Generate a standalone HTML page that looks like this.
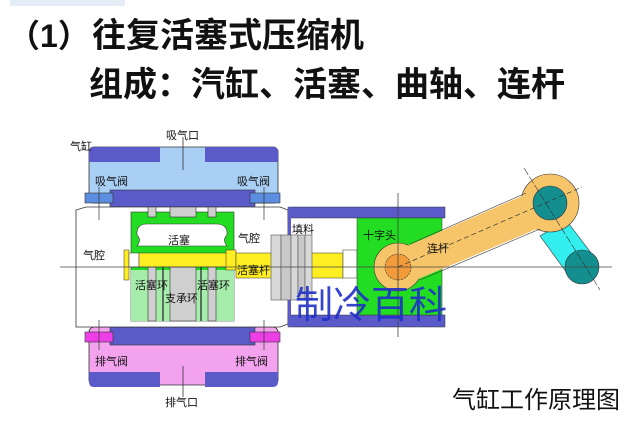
<!DOCTYPE html>
<html><head><meta charset="utf-8"><style>
body{margin:0;background:#fff;width:640px;height:429px;overflow:hidden}
svg{display:block}
text{font-family:"Liberation Sans","Noto Sans CJK SC",sans-serif}
</style></head><body>
<svg width="640" height="429" viewBox="0 0 640 429" xmlns="http://www.w3.org/2000/svg">
<rect x="10" y="0" width="115" height="6" fill="#e4ecf6"/>
<text x="8" y="47" font-size="32" fill="#111" font-weight="bold">（1）</text>
<text x="92" y="47" font-size="34" fill="#111" font-weight="bold">往复活塞式压缩机</text>
<text x="89" y="96" font-size="34" fill="#111" font-weight="bold">组成：汽缸、活塞、曲轴、连杆</text>

<!-- top head -->
<rect x="89" y="147" width="189" height="56" rx="5" fill="#a9cff5" stroke="#333" stroke-width="0.8"/>
<path d="M89 162 L89 152 Q89 147 94 147 L160 147 L160 162 Z" fill="#5a5ac8"/>
<path d="M205 147 L272 147 Q278 147 278 152 L278 162 L205 162 Z" fill="#5a5ac8"/>
<rect x="110" y="190" width="145" height="17" fill="#5a5ac8" stroke="#333" stroke-width="0.6"/>
<rect x="85" y="193" width="28" height="10" fill="#5b8ee0" stroke="#333" stroke-width="0.6"/>
<rect x="250" y="193" width="30" height="10" fill="#5b8ee0" stroke="#333" stroke-width="0.6"/>
<!-- bottom head -->
<rect x="89" y="327" width="189" height="58" rx="5" fill="#f3a3ee" stroke="#333" stroke-width="0.8"/>
<path d="M89 372 L160 372 L160 387 L94 387 Q89 387 89 382 Z" fill="#5a5ac8"/>
<path d="M205 372 L278 372 L278 382 Q278 387 272 387 L205 387 Z" fill="#5a5ac8"/>
<rect x="110" y="327" width="145" height="18" fill="#5a5ac8" stroke="#333" stroke-width="0.6"/>
<rect x="85" y="332" width="28" height="10" fill="#ee3ee8" stroke="#333" stroke-width="0.6"/>
<rect x="250" y="332" width="30" height="10" fill="#ee3ee8" stroke="#333" stroke-width="0.6"/>
<!-- body -->
<path d="M76 327 L76 210 L86 207 L110 207 L255 207 L280 207 L288 210 L288 324 L280 327 Z" fill="#fff" stroke="#333" stroke-width="0.8"/>
<!-- piston -->
<rect x="131" y="212" width="103" height="109" fill="#22dd22" stroke="#333" stroke-width="0.6"/>
<rect x="131" y="270" width="103" height="51" fill="#a6ecaa"/>
<path d="M147 224 L216 224 Q228 224 227 235 Q222 240 227 246 L137 246 Q142 240 137 235 Q136 224 147 224 Z" fill="#fff" stroke="#333" stroke-width="0.6"/>
<rect x="170" y="207" width="26" height="10" fill="#cfcfcf" stroke="#333" stroke-width="0.6"/>
<rect x="148" y="207" width="8" height="10" fill="#cfcfcf" stroke="#333" stroke-width="0.6"/>
<rect x="208" y="207" width="8" height="10" fill="#cfcfcf" stroke="#333" stroke-width="0.6"/>
<rect x="170" y="267" width="26" height="54" fill="#cfcfcf" stroke="#333" stroke-width="0.6"/>
<rect x="148" y="267" width="8" height="54" fill="#cfcfcf" stroke="#333" stroke-width="0.6"/>
<rect x="208" y="267" width="8" height="54" fill="#cfcfcf" stroke="#333" stroke-width="0.6"/>
<line x1="163" y1="267" x2="163" y2="321" stroke="#222" stroke-width="1.2"/>
<line x1="201" y1="267" x2="201" y2="321" stroke="#222" stroke-width="1.2"/>
<!-- rod -->
<rect x="124" y="250" width="5" height="30" fill="#ffee22" stroke="#333" stroke-width="0.5"/>
<rect x="129" y="253" width="10" height="14" fill="#fff" stroke="#333" stroke-width="0.5"/>
<rect x="139" y="253" width="96" height="14" fill="#ffee22" stroke="#333" stroke-width="0.5"/>
<rect x="226" y="250" width="10" height="20" fill="#ffee22" stroke="#333" stroke-width="0.5"/>
<rect x="236" y="253" width="107" height="25" fill="#ffee22" stroke="#333" stroke-width="0.5"/>
<rect x="343" y="250" width="14" height="28" fill="#fff" stroke="#333" stroke-width="0.5"/>
<!-- packing box -->
<rect x="288" y="207" width="157" height="11" fill="#5a5ac8" stroke="#333" stroke-width="0.5"/>
<rect x="288" y="315" width="157" height="12" fill="#5a5ac8" stroke="#333" stroke-width="0.5"/>
<rect x="288" y="207" width="3" height="120" fill="#5a5ac8"/>
<rect x="357" y="218" width="85" height="97" fill="#22dd22" stroke="#333" stroke-width="0.5"/>
<rect x="271" y="235" width="10" height="65" fill="#d8d8d8" stroke="#555" stroke-width="0.6"/>
<rect x="281" y="235" width="10" height="65" fill="#c8c8c8" stroke="#555" stroke-width="0.6"/>
<rect x="291" y="235" width="7" height="65" fill="#d8d8d8" stroke="#555" stroke-width="0.6"/>
<rect x="298" y="235" width="7" height="65" fill="#c8c8c8" stroke="#555" stroke-width="0.6"/>
<rect x="305" y="235" width="7" height="65" fill="#d8d8d8" stroke="#555" stroke-width="0.6"/>
<!-- crank -->
<path d="M566 220 L598 262 L572 280 L540 236 Z" fill="#33eeee" stroke="#333" stroke-width="0.6"/>
<circle cx="582" cy="267" r="17" fill="#138f8f" stroke="#333" stroke-width="0.6"/>
<circle cx="550" cy="203" r="29" fill="#f6c56a" stroke="#333" stroke-width="0.6"/>
<circle cx="398" cy="267" r="24" fill="#f6c56a" stroke="#333" stroke-width="0.6"/>
<path d="M398 250 L545 186 L558 220 L404 285 Z" fill="#f6c56a"/>
<line x1="410" y1="244" x2="526" y2="193" stroke="#333" stroke-width="0.6"/>
<line x1="420" y1="280" x2="540" y2="229" stroke="#333" stroke-width="0.6"/>
<circle cx="550" cy="203" r="17" fill="#138f8f" stroke="#333" stroke-width="0.6"/>
<circle cx="398" cy="267" r="13" fill="#f39a3a" stroke="#333" stroke-width="0.6" stroke-dasharray="2 1"/>
<line x1="398" y1="267" x2="582" y2="187" stroke="#333" stroke-width="0.7" stroke-dasharray="5 3"/>
<line x1="524" y1="168" x2="600" y2="290" stroke="#333" stroke-width="0.6" stroke-dasharray="8 2"/>
<!-- center lines -->
<line x1="60" y1="267" x2="612" y2="267" stroke="#444" stroke-width="0.8"/>
<line x1="398" y1="193" x2="398" y2="337" stroke="#444" stroke-width="0.8"/>
<line x1="183" y1="137" x2="183" y2="170" stroke="#333" stroke-width="0.8"/>
<line x1="183" y1="366" x2="183" y2="397" stroke="#333" stroke-width="0.8"/>
<line x1="99" y1="187" x2="99" y2="220" stroke="#333" stroke-width="0.7"/>
<line x1="264" y1="187" x2="264" y2="220" stroke="#333" stroke-width="0.7"/>
<line x1="99" y1="320" x2="99" y2="350" stroke="#333" stroke-width="0.7"/>
<line x1="264" y1="320" x2="264" y2="350" stroke="#333" stroke-width="0.7"/>
<!-- labels -->
<g font-size="11" fill="#111">
<text x="70" y="150">气缸</text>
<text x="166" y="139">吸气口</text>
<text x="95" y="185">吸气阀</text>
<text x="237" y="185">吸气阀</text>
<text x="83" y="259">气腔</text>
<text x="238" y="242">气腔</text>
<text x="168" y="244">活塞</text>
<text x="135" y="289">活塞环</text>
<text x="197" y="289">活塞环</text>
<text x="165" y="302">支承环</text>
<text x="237" y="274">活塞杆</text>
<text x="292" y="233">填料</text>
<text x="363" y="239">十字头</text>
<text x="427" y="252">连杆</text>
<text x="95" y="365">排气阀</text>
<text x="235" y="365">排气阀</text>
<text x="165" y="406">排气口</text>
</g>
<text x="295" y="318" font-size="38" fill="#2030c8" font-family="'Noto Serif CJK SC',serif" opacity="0.9">制冷百科</text>
<text x="452" y="408" font-size="24" fill="#111" font-family="'Noto Serif CJK SC',serif">气缸工作原理图</text>
</svg>
</body></html>
